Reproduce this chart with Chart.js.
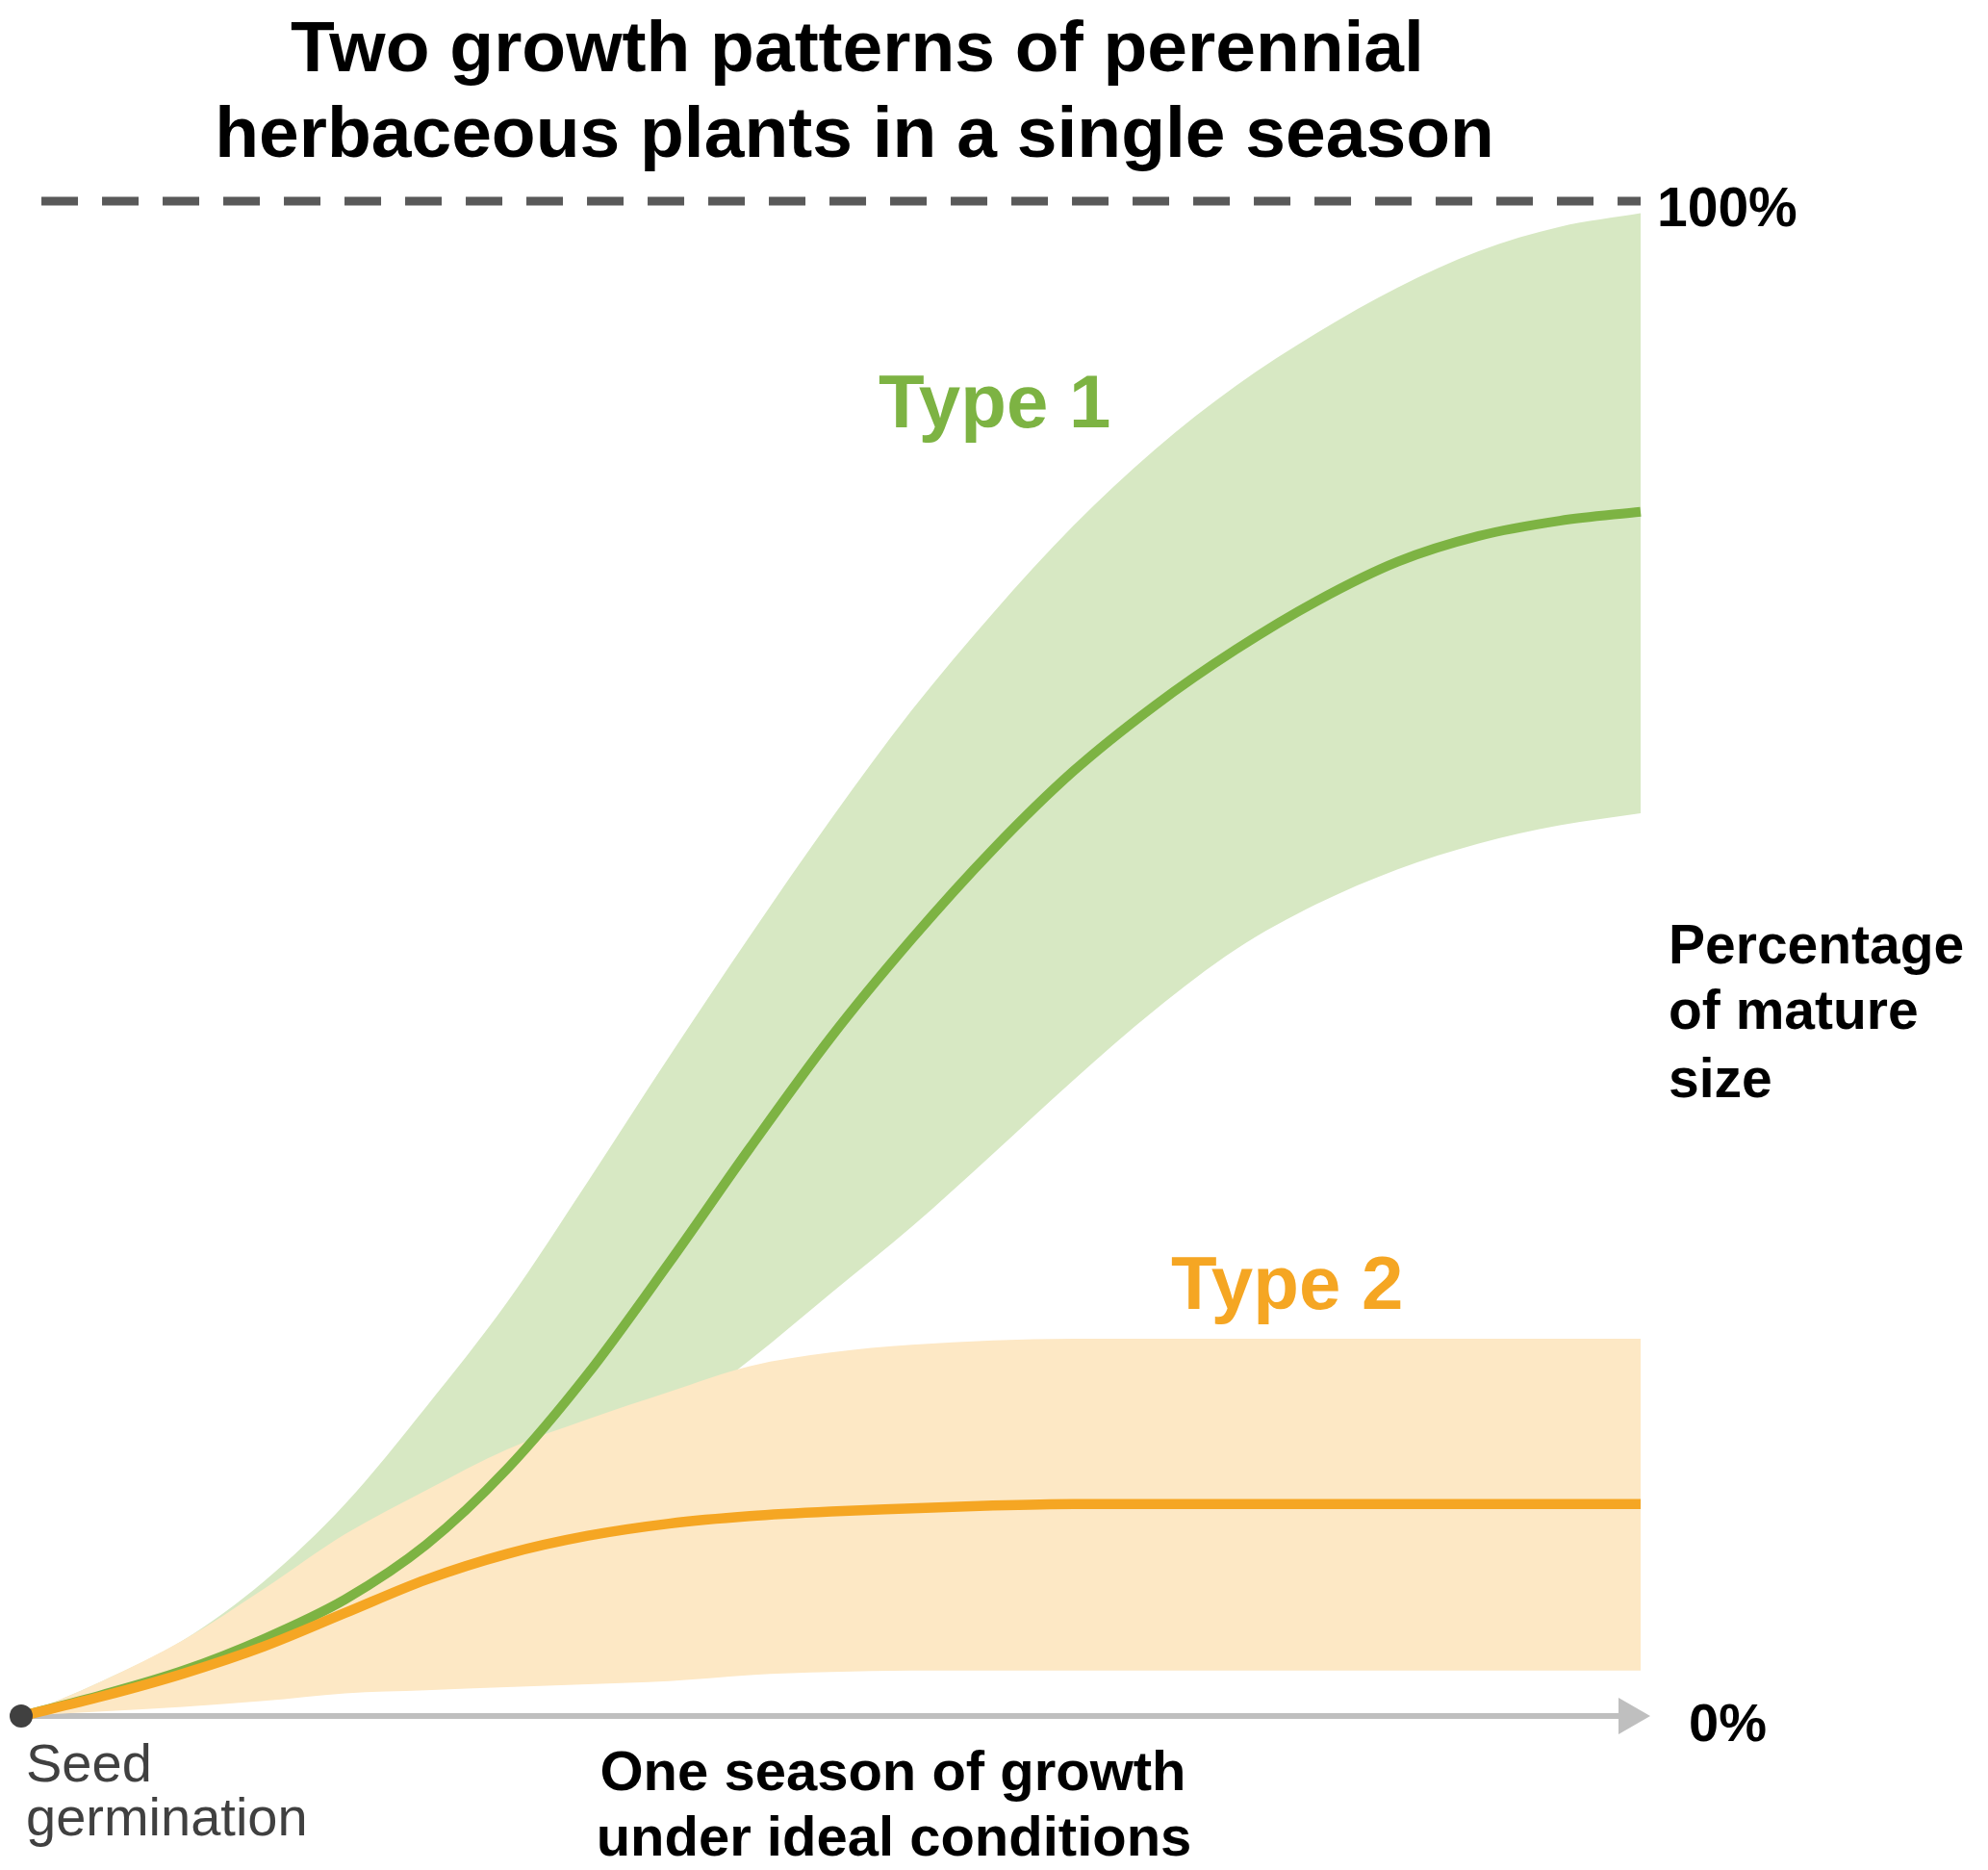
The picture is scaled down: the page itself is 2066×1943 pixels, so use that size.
<!DOCTYPE html>
<html lang="en">
<head>
    <meta charset="UTF-8">
    <title>Two growth patterns of perennial herbaceous plants</title>
    <script src="https://cdn.jsdelivr.net/npm/chart.js"></script>
    <style>
        html, body { margin: 0; padding: 0; background: #ffffff; }
        canvas { display: block; }
    </style>
</head>
<body>

    <canvas id="growthChart" width="2066" height="1943"></canvas>

    <script>
        // Time through the season (0 = seed germination, 100 = end of season)
        const seasonX = [0, 5, 10, 15, 20, 25, 30, 35, 40, 45, 50, 55, 60, 65, 70, 75, 80, 85, 90, 95, 100];

        // Type 1 (% of mature size)
        const type1Upper = [0, 2.3, 5.0, 8.9, 14.0, 20.4, 27.3, 35.3, 43.5, 51.5, 59.2, 66.4, 72.8, 78.6, 83.6, 87.8, 91.3, 94.3, 96.7, 98.3, 99.2];
        const type1Mean  = [0, 1.4, 3.0, 5.1, 7.7, 11.3, 16.3, 22.6, 29.9, 37.5, 44.8, 51.3, 57.2, 62.4, 66.7, 70.4, 73.6, 76.2, 77.9, 78.9, 79.5];
        const type1Lower = [0, 1.0, 3.0, 5.5, 8.5, 11.5, 14.5, 17.0, 19.5, 23.5, 27.9, 32.3, 37.1, 42.0, 46.6, 50.6, 53.6, 55.9, 57.6, 58.8, 59.6];

        // Type 2 (% of mature size)
        const type2Upper = [0, 2.3, 5.0, 8.4, 12.0, 14.9, 17.6, 19.6, 21.4, 23.1, 24.0, 24.5, 24.8, 24.9, 24.9, 24.9, 24.9, 24.9, 24.9, 24.9, 24.9];
        const type2Mean  = [0, 1.3, 2.8, 4.6, 6.8, 9.0, 10.7, 11.9, 12.7, 13.2, 13.5, 13.7, 13.9, 14.0, 14.0, 14.0, 14.0, 14.0, 14.0, 14.0, 14.0];
        const type2Lower = [0, 0.3, 0.6, 1.0, 1.5, 1.7, 1.9, 2.1, 2.3, 2.7, 2.9, 3.0, 3.0, 3.0, 3.0, 3.0, 3.0, 3.0, 3.0, 3.0, 3.0];

        // 100% reference line and the germination point
        const fullSizeX = [1.25, 100];
        const fullSizeY = [100, 100];
        const seedX = [0];
        const seedY = [0];

        const GREEN = "#7db343";
        const GREEN_FILL = "#d7e8c3";
        const ORANGE = "#f5a623";
        const ORANGE_FILL = "#fde8c5";
        const FONT = "'Liberation Sans', Arial, sans-serif";

        const pts = (xs, ys) => xs.map((x, i) => ({ x: x, y: ys[i] }));

        const band = (values, order, fillTo, fillColor) => ({
            data: pts(seasonX, values),
            borderWidth: 0,
            borderColor: "transparent",
            backgroundColor: fillColor || "transparent",
            fill: fillTo === undefined ? false : fillTo,
            pointRadius: 0,
            cubicInterpolationMode: "monotone",
            order: order,
            clip: false
        });

        // labels, axis arrow and title drawn on the canvas
        const annotations = {
            id: "annotations",
            beforeDatasetsDraw(chart) {
                const { ctx, scales: { x, y } } = chart;
                const x0 = x.getPixelForValue(0);
                const y0 = y.getPixelForValue(0);
                const tip = x.getPixelForValue(100) + 10;
                ctx.save();
                ctx.strokeStyle = "#bfbfbf";
                ctx.lineWidth = 6;
                ctx.beginPath();
                ctx.moveTo(x0, y0);
                ctx.lineTo(tip - 32, y0);
                ctx.stroke();
                ctx.fillStyle = "#bfbfbf";
                ctx.beginPath();
                ctx.moveTo(tip - 33, y0 - 19);
                ctx.lineTo(tip, y0);
                ctx.lineTo(tip - 33, y0 + 19);
                ctx.closePath();
                ctx.fill();
                ctx.restore();
            },
            afterDraw(chart) {
                const ctx = chart.ctx;
                ctx.save();
                ctx.textBaseline = "alphabetic";

                // title
                ctx.fillStyle = "#000000";
                ctx.textAlign = "center";
                ctx.font = "bold 75px " + FONT;
                ctx.fillText("Two growth patterns of perennial", 891, 74);
                ctx.fillText("herbaceous plants in a single season", 888, 163);

                // x axis caption
                ctx.font = "bold 58px " + FONT;
                ctx.fillText("One season of growth", 928, 1860);
                ctx.fillText("under ideal conditions", 929, 1928);

                // y labels on the right
                ctx.textAlign = "left";
                ctx.font = "bold 57px " + FONT;
                ctx.fillText("100%", 1722, 235);
                ctx.font = "bold 56px " + FONT;
                ctx.fillText("0%", 1755, 1809);
                ctx.font = "bold 57px " + FONT;
                ctx.fillText("Percentage", 1734, 1001);
                ctx.fillText("of mature", 1734, 1069);
                ctx.fillText("size", 1734, 1140);

                // series labels
                ctx.font = "bold 78px " + FONT;
                ctx.fillStyle = GREEN;
                ctx.fillText("Type 1", 913, 444);
                ctx.fillStyle = ORANGE;
                ctx.fillText("Type 2", 1217, 1360);

                // start label
                ctx.fillStyle = "#404040";
                ctx.font = "56px " + FONT;
                ctx.fillText("Seed", 27, 1851);
                ctx.fillText("germination", 27, 1907);
                ctx.restore();
            }
        };

        const ctx = document.getElementById("growthChart").getContext("2d");

        const chart = new Chart(ctx, {
            type: "line",
            data: {
                datasets: [
                    {   // 0: 100% dashed line
                        data: pts(fullSizeX, fullSizeY),
                        borderColor: "#595959",
                        borderWidth: 9,
                        borderDash: [38, 25],
                        pointRadius: 0,
                        fill: false,
                        order: 7,
                        clip: false
                    },
                    band(type1Upper, 6, 2, GREEN_FILL),   // 1
                    band(type1Lower, 5),                   // 2
                    band(type2Upper, 4, 4, ORANGE_FILL),  // 3
                    band(type2Lower, 3),                   // 4
                    {   // 5: Type 1 line
                        data: pts(seasonX, type1Mean),
                        borderColor: GREEN,
                        borderWidth: 10,
                        pointRadius: 0,
                        fill: false,
                        cubicInterpolationMode: "monotone",
                        order: 2,
                        clip: false
                    },
                    {   // 6: Type 2 line
                        data: pts(seasonX, type2Mean),
                        borderColor: ORANGE,
                        borderWidth: 10.5,
                        pointRadius: 0,
                        fill: false,
                        cubicInterpolationMode: "monotone",
                        order: 1,
                        clip: false
                    },
                    {   // 7: seed germination point
                        data: pts(seedX, seedY),
                        showLine: false,
                        pointRadius: 12,
                        pointBackgroundColor: "#404040",
                        pointBorderWidth: 0,
                        order: 0,
                        clip: false
                    }
                ]
            },
            options: {
                responsive: false,
                devicePixelRatio: 1,
                animation: false,
                layout: { padding: { left: 22, right: 361, top: 209, bottom: 160 } },
                plugins: {
                    legend: { display: false },
                    tooltip: { enabled: false },
                    filler: { drawTime: "beforeDatasetDraw" }
                },
                scales: {
                    x: { type: "linear", min: 0, max: 100, display: false },
                    y: { type: "linear", min: 0, max: 100, display: false }
                }
            },
            plugins: [annotations]
        });
    </script>

</body>
</html>
